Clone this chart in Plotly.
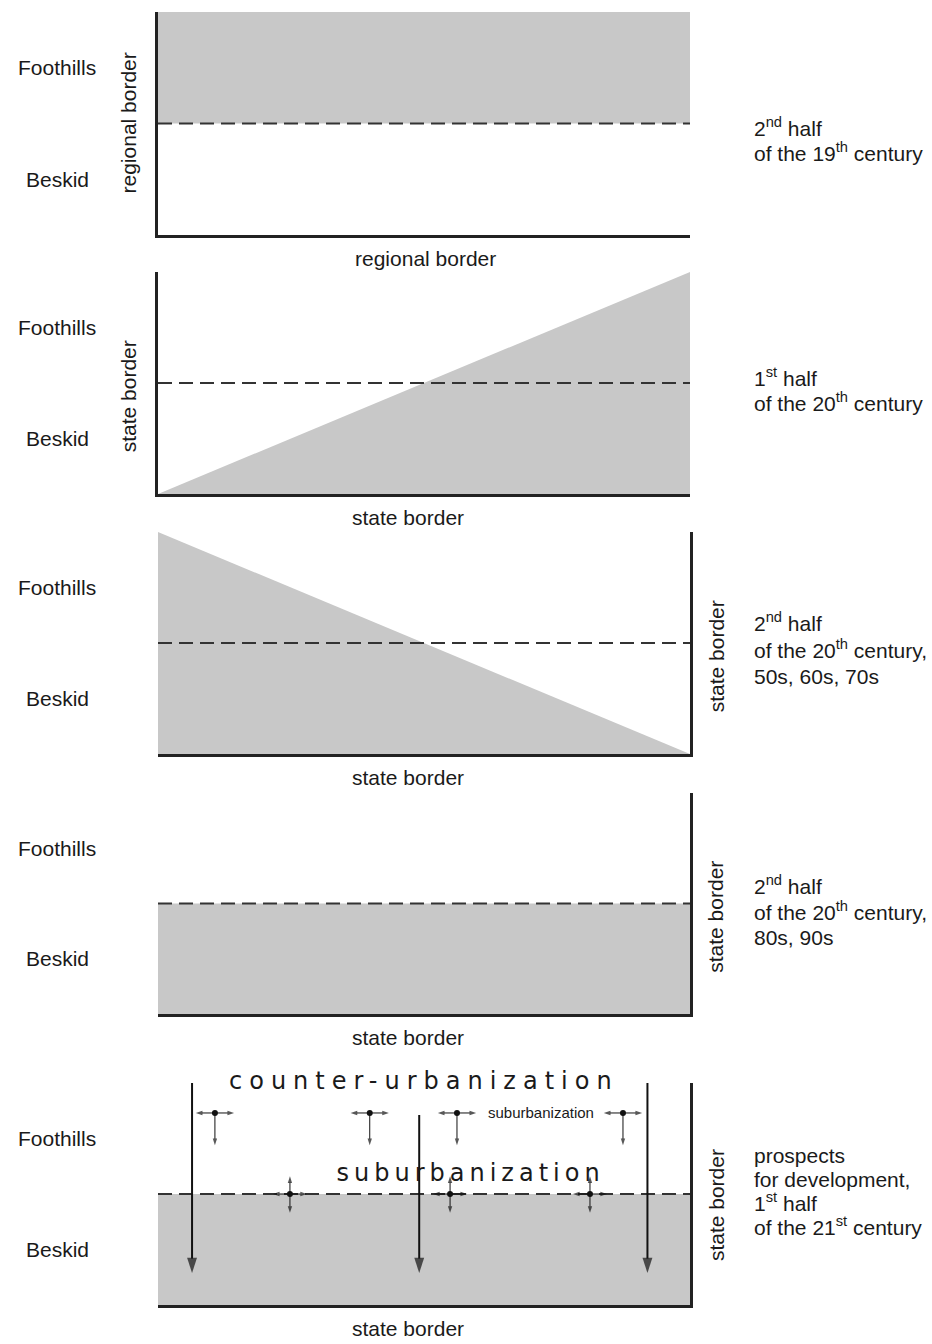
import plotly.graph_objects as go

W, H = 932, 1344

# ---------------- data ----------------
zone_labels = ["Foothills", "Beskid"]
zone_levels = [0.75, 0.25]
vertical_border = ["regional border", "state border", "state border", "state border", "state border"]
bottom_border = ["regional border", "state border", "state border", "state border", "state border"]
axis_side = ["left", "left", "right", "right", "right"]
boundary_left = [0.5, 0.0, 1.0, 0.5, 0.5]
boundary_right = [0.5, 1.0, 0.0, 0.5, 0.5]
shade_side = ["above", "below", "below", "below", "below"]
divide_level = [0.5, 0.5, 0.5, 0.5, 0.5]
periods = [
    ["2<sup>nd</sup> half", "of the 19<sup>th</sup> century"],
    ["1<sup>st</sup> half", "of the 20<sup>th</sup> century"],
    ["2<sup>nd</sup> half", "of the 20<sup>th</sup> century,", "50s, 60s, 70s"],
    ["2<sup>nd</sup> half", "of the 20<sup>th</sup> century,", "80s, 90s"],
    ["prospects", "for development,", "1<sup>st</sup> half", "of the 21<sup>st</sup> century"],
]

# panel 5 flows (axis units of the last panel)
counter_x = [0.064, 0.491, 0.920]
counter_y_start = [1.0, 0.856, 1.0]
counter_y_end = [0.144, 0.144, 0.144]
sub_upper_x = [0.107, 0.398, 0.562, 0.874]
sub_upper_y = 0.865
sub_upper_spread = 0.036
sub_upper_drop = 0.145
sub_lower_x = [0.248, 0.549, 0.812]
sub_lower_y = 0.5
sub_lower_spread = 0.032
sub_lower_rise = 0.08
sub_lower_drop = 0.085

# ---------------- layout constants ----------------
FONT = "Liberation Sans, Arial, sans-serif"
FS = 21
TXT = "#1a1a1a"
GREY = "#c8c8c8"
X0, X1 = 158, 690
panels_px = [(12, 235), (272, 494), (532, 754), (793, 1014), (1083, 1305)]
right_text_px = [[127, 152], [377, 402], [622, 649, 676], [885, 911, 937], [1155, 1179, 1202, 1226]]
vert_title_x = {"left": 128, "right": 716}
vert_title_y = [0.5, 0.44, 0.44, 0.44, 0.45]

fig = go.Figure()
layout = dict(
    width=W, height=H, margin=dict(l=0, r=0, t=0, b=0),
    paper_bgcolor="white", plot_bgcolor="rgba(0,0,0,0)",
    showlegend=False, annotations=[],
)

for i, (top, bot) in enumerate(panels_px):
    n = i + 1
    xa = "x" if n == 1 else f"x{n}"
    ya = "y" if n == 1 else f"y{n}"
    layout["xaxis" if n == 1 else f"xaxis{n}"] = dict(
        domain=[X0 / W, X1 / W], range=[0, 1], anchor=ya,
        showline=True, linecolor="#222", linewidth=2.5,
        showticklabels=False, ticks="", showgrid=False, zeroline=False, fixedrange=True,
    )
    layout["yaxis" if n == 1 else f"yaxis{n}"] = dict(
        domain=[1 - bot / H, 1 - top / H], range=[0, 1], anchor=xa, side=axis_side[i],
        showline=True, linecolor="#222", linewidth=2.5,
        showticklabels=False, ticks="", showgrid=False, zeroline=False, fixedrange=True,
    )
    edge = 1 if shade_side[i] == "above" else 0
    fig.add_trace(go.Scatter(
        x=[0, 1, 1, 0, 0], y=[boundary_left[i], boundary_right[i], edge, edge, boundary_left[i]],
        mode="lines", fill="toself", fillcolor=GREY, line=dict(width=0),
        hoverinfo="skip", xaxis=xa, yaxis=ya,
    ))
    fig.add_trace(go.Scatter(
        x=[0, 1], y=[divide_level[i]] * 2, mode="lines",
        line=dict(color="#333", width=1.8, dash="14px,7px"),
        hoverinfo="skip", xaxis=xa, yaxis=ya,
    ))
    ydom = f"{ya} domain"
    for lab, lev in zip(zone_labels, zone_levels):
        layout["annotations"].append(dict(
            text=lab, xref="paper", x=57 / W, yref=ydom, y=lev, showarrow=False,
            xanchor="center", yanchor="middle", font=dict(family=FONT, size=FS, color=TXT)))
    layout["annotations"].append(dict(
        text=vertical_border[i], xref="paper", x=vert_title_x[axis_side[i]] / W,
        yref=ydom, y=vert_title_y[i], textangle=-90, showarrow=False,
        xanchor="center", yanchor="middle", font=dict(family=FONT, size=FS, color=TXT)))
    layout["annotations"].append(dict(
        text=bottom_border[i], xref="paper", x=(425 if n == 1 else 408) / W,
        yref=ydom, y=0, yshift=-23, showarrow=False,
        xanchor="center", yanchor="middle", font=dict(family=FONT, size=FS, color=TXT)))
    for line, ypx in zip(periods[i], right_text_px[i]):
        layout["annotations"].append(dict(
            text=line, xref="paper", x=752 / W, yref="paper", y=1 - ypx / H,
            showarrow=False, xanchor="left", yanchor="middle", align="left",
            font=dict(family=FONT, size=FS, color=TXT)))

# ---------------- panel 5 arrows ----------------
XA5, YA5 = "x5", "y5"


def arrows(segs, size, width, color="#111"):
    xs, ys, sz = [], [], []
    for (xa, ya, xb, yb) in segs:
        xs += [xa, xb, None]
        ys += [ya, yb, None]
        sz += [0, size, 0]
    return go.Scatter(
        x=xs, y=ys, mode="lines+markers",
        line=dict(color=color, width=width),
        marker=dict(symbol="arrow", angleref="previous", size=sz, color=color, line=dict(width=0)),
        hoverinfo="skip", xaxis=XA5, yaxis=YA5,
    )


big = [(cx, y0, cx, y1) for cx, y0, y1 in zip(counter_x, counter_y_start, counter_y_end)]
fig.add_trace(arrows(big, 16, 2))

small = []
for cx in sub_upper_x:
    small += [(cx, sub_upper_y, cx - sub_upper_spread, sub_upper_y),
              (cx, sub_upper_y, cx + sub_upper_spread, sub_upper_y),
              (cx, sub_upper_y, cx, sub_upper_y - sub_upper_drop)]
for cx in sub_lower_x:
    small += [(cx, sub_lower_y, cx - sub_lower_spread, sub_lower_y),
              (cx, sub_lower_y, cx + sub_lower_spread, sub_lower_y),
              (cx, sub_lower_y, cx, sub_lower_y + sub_lower_rise),
              (cx, sub_lower_y, cx, sub_lower_y - sub_lower_drop)]
fig.add_trace(arrows(small, 7, 1))

fig.add_trace(go.Scatter(
    x=sub_upper_x + sub_lower_x,
    y=[sub_upper_y] * len(sub_upper_x) + [sub_lower_y] * len(sub_lower_x),
    mode="markers", marker=dict(symbol="circle", size=6, color="#111"),
    hoverinfo="skip", xaxis=XA5, yaxis=YA5,
))

layout["annotations"] += [
    dict(text="counter-urbanization", xref="x5 domain", yref="y5 domain", x=0.5, y=1.01,
         showarrow=False, xanchor="center", yanchor="middle",
         font=dict(family="DejaVu Sans", size=24, color=TXT)),
    dict(text="suburbanization", xref="x5 domain", yref="y5 domain", x=0.588, y=0.595,
         showarrow=False, xanchor="center", yanchor="middle",
         font=dict(family="DejaVu Sans", size=24, color=TXT)),
    dict(text="suburbanization", xref="x5 domain", yref="y5 domain", x=0.72, y=sub_upper_y,
         showarrow=False, xanchor="center", yanchor="middle",
         font=dict(family=FONT, size=15, color=TXT)),
]

fig.update_layout(**layout)

post = """
document.documentElement.style.margin = '0';
document.body.style.margin = '0';
document.body.style.overflow = 'hidden';
var gd = document.getElementById('{plot_id}');
function spaceOut(){
  gd.querySelectorAll('text.annotation-text').forEach(function(t){
    var s = t.textContent;
    var fs = t.style.fontFamily || '';
    if (s === 'counter-urbanization') { t.style.letterSpacing = '7px'; }
    else if (s === 'suburbanization' && fs.indexOf('DejaVu') >= 0) { t.style.letterSpacing = '5px'; }
  });
}
spaceOut();
gd.on('plotly_afterplot', spaceOut);
"""
fig.write_html("out.html", post_script=post, config={"displayModeBar": False})
